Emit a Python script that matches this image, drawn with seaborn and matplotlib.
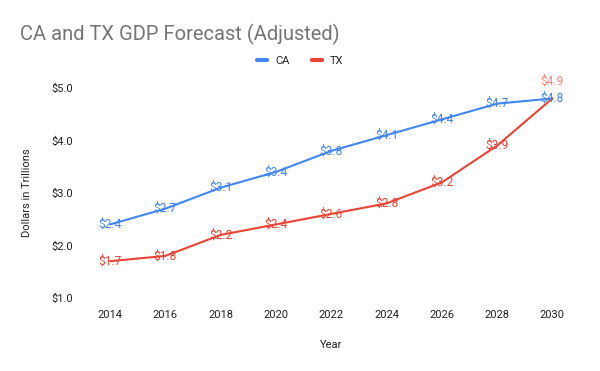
import matplotlib
matplotlib.use("Agg")
import matplotlib.pyplot as plt
import seaborn as sns
import pandas as pd
from matplotlib.lines import Line2D

years = [2014, 2016, 2018, 2020, 2022, 2024, 2026, 2028, 2030]
ca_values = [2.4, 2.7, 3.1, 3.4, 3.8, 4.1, 4.4, 4.7, 4.8]
tx_values = [1.7, 1.8, 2.2, 2.4, 2.6, 2.8, 3.2, 3.9, 4.8]
tx_labels = [1.7, 1.8, 2.2, 2.4, 2.6, 2.8, 3.2, 3.9, 4.9]
y_ticks = [1.0, 2.0, 3.0, 4.0, 5.0]

sns.set_theme(style="white")
plt.rcParams['font.family'] = ['Roboto', 'DejaVu Sans']

df = pd.DataFrame({
    "Year": years * 2,
    "Value": ca_values + tx_values,
    "State": ["CA"] * len(years) + ["TX"] * len(years),
})
palette = {"CA": "#4285F4", "TX": "#EA4335"}

fig = plt.figure(figsize=(6, 3.71), dpi=100)
ax = fig.add_axes([0.142, 0.197, 0.82, 0.566])
sns.lineplot(data=df, x="Year", y="Value", hue="State", palette=palette,
             linewidth=1.5, ax=ax, legend=False)

for x, v in zip(years, ca_values):
    ax.text(x, v, f"${v:.1f}", color="#4285F4", fontsize=8.6, ha="center", va="center", zorder=5)
last = len(years) - 1
for i, (x, v, lab) in enumerate(zip(years, tx_values, tx_labels)):
    if i == last:
        ax.annotate(f"${lab:.1f}", (x, v), xytext=(0, 12), textcoords="offset points",
                    color="#EA4335", alpha=0.65, fontsize=8.6, ha="center", va="center", zorder=5)
    else:
        ax.text(x, v, f"${lab:.1f}", color="#EA4335", fontsize=8.6, ha="center", va="center", zorder=5)

ax.set_xlim(2013.1, 2030.9)
ax.set_ylim(1.0, 5.0)
ax.set_xticks(years)
ax.set_xticklabels([str(y) for y in years], fontsize=8, color="#222222")
ax.set_yticks(y_ticks)
ax.set_yticklabels([f"${t:.1f}" for t in y_ticks], fontsize=8, color="#222222")
ax.tick_params(axis="both", length=0, pad=9)
for s in ax.spines.values():
    s.set_visible(False)
ax.set_xlabel("Year", fontsize=8, color="#222222", labelpad=14)
ax.set_ylabel("Dollars in Trillions", fontsize=8, color="#222222", labelpad=14)

fig.text(0.033, 0.908, "CA and TX GDP Forecast (Adjusted)", fontsize=14.5, color="#757575", ha="left", va="center")

handles = [Line2D([0], [0], color="#4285F4", lw=3), Line2D([0], [0], color="#EA4335", lw=3)]
fig.legend(handles, ["CA", "TX"], loc="center", bbox_to_anchor=(0.5, 0.835), ncol=2,
           frameon=False, fontsize=8, handlelength=0.9, columnspacing=2.0, handletextpad=0.7)

fig.savefig("out.png", dpi=100)
